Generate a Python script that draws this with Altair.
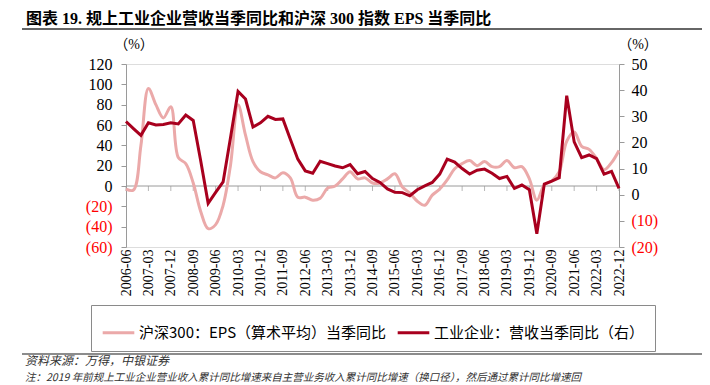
import altair as alt
import pandas as pd

# ---------------- data ----------------
quarters = [f"{y}-{m:02d}" for y in range(2006, 2023) for m in (3, 6, 9, 12)][1:]  # 2006-06 .. 2022-12
tick_labels = quarters[::3]

eps_yoy = [-3, -4, 40, 96, 80, 67, 78, 28, 22, 3,
           -25, -42, -38, -19, 21, 80, 50, 24, 14, 11,
           8, 13, 8, -11, -11, -14, -12, -2, 0, 7,
           14, 7, 8, 3, 3, 7, 12, -1, -7, -15,
           -19, -9, -3, 6, 17, 22, 25, 20, 24, 19,
           19, 25, 18, 19, 7, -14, 1, 5, 14, 44,
           53, 39, 36, 27, 16, 23, 35]

rev_yoy = [28, 25.3, 22.7, 27.5, 26.7, 26.9, 27.5, 27.1, 30.5, 28.4,
           13, -3.3, 0.9, 4.9, 22, 39.5, 36.6, 25.9, 27.5, 30,
           28.8, 29, 21.2, 13.6, 9.1, 8.2, 12.8, 11.9, 11, 10.3,
           11.5, 8, 8.9, 6.2, 4.7, 2.2, 0.9, 0.8, -0.4, 1.9,
           3.4, 4.7, 7.9, 13.6, 12.5, 10, 7.9, 9.4, 9.8, 8.2,
           6.2, 7, 2.4, 3.7, 1.9, -14.9, 4.1, 5.2, 6.5, 37.9,
           20.2, 14.2, 15.2, 13.8, 7.9, 8.9, 2.4]

left_ticks = [-60, -40, -20, 0, 20, 40, 60, 80, 100, 120]
right_ticks = [-20, -10, 0, 10, 20, 30, 40, 50]

series_names = ["沪深300：EPS（算术平均）当季同比", "工业企业：营收当季同比（右）"]
title_text = "图表 19. 规上工业企业营收当季同比和沪深 300 指数 EPS 当季同比"
source_text = "资料来源：万得，中银证券"
note_text = "注：2019 年前规上工业企业营业收入累计同比增速来自主营业务收入累计同比增速（换口径），然后通过累计同比增速回"

PINK = "#EBA9A9"
RED = "#A8001E"
AXIS_GRAY = "#9A9A9A"
SERIF = "'Liberation Serif', 'Noto Sans CJK SC'"
CJK = "'Noto Sans CJK SC'"

df = pd.DataFrame({"q": quarters, "eps": eps_yoy, "rev": rev_yoy,
                   "s_eps": series_names[0], "s_rev": series_names[1]})
tick_df = pd.DataFrame({"q": tick_labels, "eps": [0] * len(tick_labels)})

neg_label = "datum.value < 0 ? '(' + format(-datum.value, 'd') + ')' : format(datum.value, 'd')"
neg_color = {"condition": {"test": "datum.value < 0", "value": "#FF0000"}, "value": "#000000"}

X = alt.X("q:O", sort=None,
          scale=alt.Scale(type="point", padding=0, domain=quarters),
          axis=alt.Axis(values=tick_labels, labelAngle=270, ticks=False, domain=False,
                        labelPadding=2, labelFont=SERIF, labelFontSize=14,
                        labelColor="#000000", title=None, grid=False))

left_axis = alt.Axis(values=left_ticks, title=None, grid=False, domainColor=AXIS_GRAY,
                     tickColor=AXIS_GRAY, tickSize=5, labelPadding=9,
                     labelFont=SERIF, labelFontSize=16, labelExpr=neg_label,
                     labelColor=neg_color)
left_scale = alt.Scale(domain=[-60, 120], nice=False, zero=False)

color_scale = alt.Scale(domain=series_names, range=[PINK, RED])
legend = alt.Legend(orient="none", legendX=-35, legendY=241, direction="horizontal",
                    title=None, symbolType="stroke", symbolSize=1000, symbolStrokeWidth=3,
                    labelFont=CJK, labelFontSize=15, labelColor="#000000", labelLimit=500,
                    labelOffset=3, columnPadding=4, padding=10,
                    strokeColor="#8A8A8A", fillColor="#FFFFFF")

pink = alt.Chart(df).mark_line(strokeWidth=3, interpolate="catmull-rom").encode(
    x=X,
    y=alt.Y("eps:Q", scale=left_scale, axis=left_axis),
    color=alt.Color("s_eps:N", scale=color_scale, legend=legend),
)

zero_rule = alt.Chart(pd.DataFrame({"eps": [0]})).mark_rule(color=AXIS_GRAY, strokeWidth=1).encode(
    y=alt.Y("eps:Q", scale=left_scale, axis=left_axis)
)

x_ticks = alt.Chart(tick_df).mark_tick(
    orient="vertical", size=5, thickness=1, color=AXIS_GRAY, yOffset=2.5).encode(
    x=X, y=alt.Y("eps:Q", scale=left_scale, axis=left_axis)
)

left_layer = alt.layer(zero_rule, x_ticks, pink)

red = alt.Chart(df).mark_line(strokeWidth=3).encode(
    x=X,
    y=alt.Y("rev:Q", scale=alt.Scale(domain=[-20, 50], nice=False, zero=False),
            axis=alt.Axis(orient="right", values=right_ticks, title=None, grid=False,
                          domainColor=AXIS_GRAY, tickColor=AXIS_GRAY, tickSize=5,
                          labelPadding=7, labelFont=SERIF, labelFontSize=16,
                          labelExpr=neg_label, labelColor=neg_color)),
    color=alt.Color("s_rev:N", scale=color_scale, legend=legend),
)

# ---------------- decorations (titles, rules, footer) ----------------
def text_layer(txt, x, y, **kw):
    return alt.Chart(pd.DataFrame({"t": [txt]})).mark_text(**kw).encode(
        x=alt.value(x), y=alt.value(y), text="t:N")

title = text_layer(title_text, -100, -40, align="left", baseline="alphabetic",
                   font=SERIF, fontSize=16, fontWeight="bold", color="#000000")
title_rule = alt.Chart(pd.DataFrame({"a": [0]})).mark_rule(color="#333333", strokeWidth=1.5).encode(
    x=alt.value(-104), x2=alt.value(576), y=alt.value(-35))
unit_left = text_layer("（%）", 8, -19, align="center", baseline="middle",
                       font=SERIF, fontSize=14, color="#000000")
unit_right = text_layer("（%）", 512, -19, align="center", baseline="middle",
                        font=SERIF, fontSize=14, color="#000000")
foot_rule = alt.Chart(pd.DataFrame({"a": [0]})).mark_rule(color="#666666", strokeWidth=1.5).encode(
    x=alt.value(-104), x2=alt.value(576), y=alt.value(290))
source = text_layer(source_text, -101, 297, align="left", baseline="middle",
                    font=CJK, fontSize=12, fontStyle="italic", color="#333333")
note = text_layer(note_text, -101, 314, align="left", baseline="middle",
                  font=CJK, fontSize=10.5, fontStyle="italic", color="#333333")

chart = alt.layer(
    alt.layer(left_layer, red).resolve_scale(y="independent"),
    title, title_rule, unit_left, unit_right, foot_rule, source, note,
).properties(
    width=493, height=183,
    autosize=alt.AutoSizeParams(type="none"),
    padding={"left": 118, "top": 56, "right": 83, "bottom": 138},
).configure_view(stroke=None).configure(background="#FFFFFF")

chart.save("out.html", embed_options={"renderer": "svg", "actions": False})
